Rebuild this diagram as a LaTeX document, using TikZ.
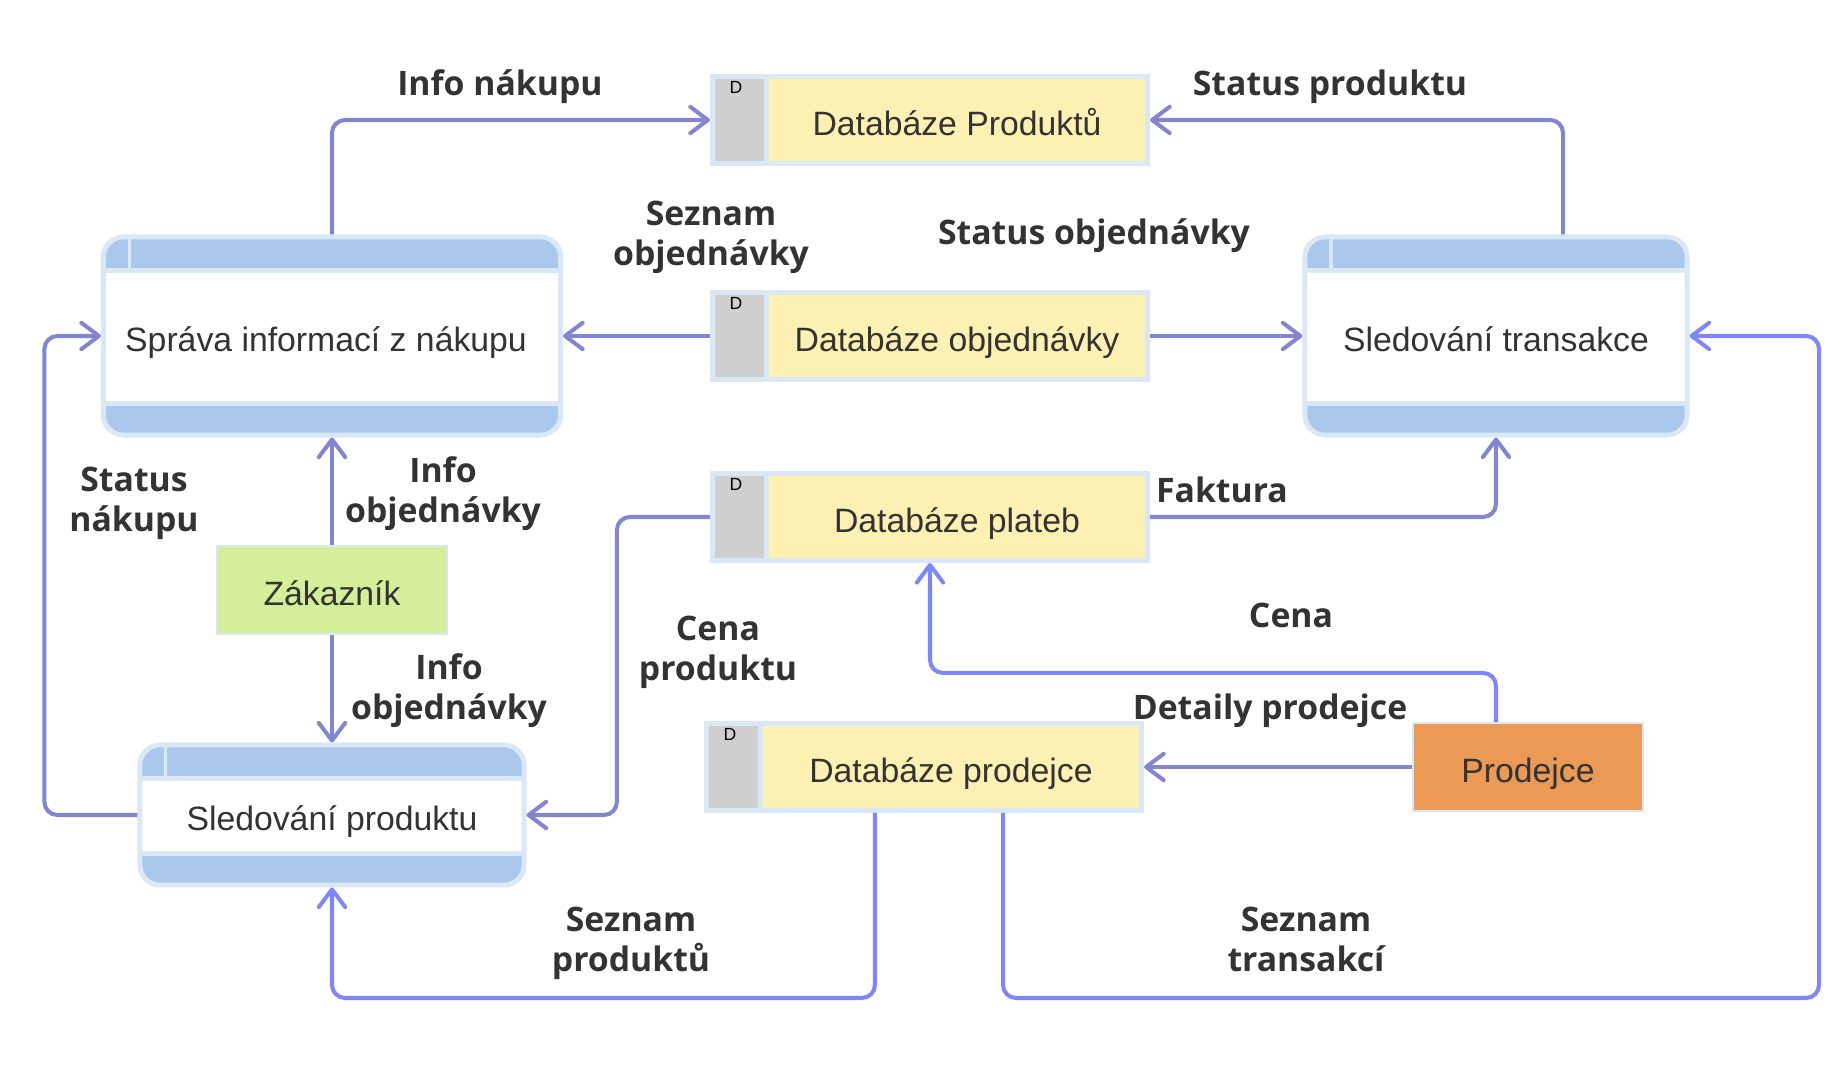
\documentclass[tikz,border=0pt]{standalone}
\usepackage{fontspec}
\setmainfont{Liberation Sans}
\newfontfamily\labelfont{Open Sans}
\usetikzlibrary{arrows.meta}
\definecolor{ink}{HTML}{333333}
\definecolor{procband}{HTML}{A9C8EC}
\definecolor{boxline}{HTML}{DAE8F5}
\definecolor{dbfill}{HTML}{FCF0B3}
\definecolor{dbgray}{HTML}{CFCFCF}
\definecolor{custfill}{HTML}{D4EE9A}
\definecolor{sellfill}{HTML}{EA9A55}
\definecolor{flowc}{HTML}{8385D0}
\definecolor{flowb}{HTML}{7F86F7}

\begin{document}
\begin{tikzpicture}[
  x=0.01cm, y=-0.01cm,
  font=\fontsize{9.6}{11.4}\selectfont,
  >={Straight Barb[length=5pt,width=7.5pt,round]},
  proc/.style={draw=boxline, line width=1.4pt, rounded corners=0.2cm, fill=white, text=ink, inner sep=0pt,
    text height=9pt, text depth=0pt,
    path picture={
      \coordinate (nw) at (path picture bounding box.north west);
      \coordinate (ne) at (path picture bounding box.north east);
      \coordinate (sw) at (path picture bounding box.south west);
      \coordinate (se) at (path picture bounding box.south east);
      \fill[procband, sharp corners] (nw) rectangle ([yshift=-0.335cm]ne);
      \fill[procband, sharp corners] (sw) rectangle ([yshift=0.315cm]se);
      \draw[boxline, line width=1.2pt, sharp corners] ([yshift=-0.335cm]nw) -- ([yshift=-0.335cm]ne);
      \draw[boxline, line width=1.2pt, sharp corners] ([yshift=0.315cm]sw) -- ([yshift=0.315cm]se);
      \draw[boxline, line width=0.9pt, sharp corners] ([xshift=0.26cm]nw) -- ([xshift=0.26cm,yshift=-0.335cm]nw);
    }},
  store/.style={draw=boxline, line width=1.4pt, fill=dbfill, text=ink, inner sep=0pt,
    minimum width=4.35cm, minimum height=0.87cm, text height=9pt, text depth=0pt,
    execute at begin node={\hspace*{0.54cm}},
    path picture={
      \coordinate (nw) at (path picture bounding box.north west);
      \coordinate (sw) at (path picture bounding box.south west);
      \fill[dbgray] (sw) rectangle ([xshift=0.54cm]nw);
      \draw[boxline, line width=1.4pt] ([xshift=0.54cm]sw) -- ([xshift=0.54cm]nw);
    },
    label={[dtag]north west:D}},
  dtag/.style={font=\fontsize{5}{6}\selectfont, text=black, inner sep=0pt, anchor=north, xshift=0.26cm, yshift=-0.07cm},
  ext/.style={draw=boxline, line width=0.6pt, text=ink, minimum width=2.3cm, minimum height=0.88cm,
    text height=9pt, text depth=0pt},
  lab/.style={font=\labelfont\bfseries\fontsize{9.6}{11.4}\selectfont, text=ink, align=center},
  flow/.style={->, draw=flowc, line width=1.15pt, rounded corners=0.13cm},
  bflow/.style={flow, draw=flowb},
]
\useasboundingbox (0,0) rectangle (1842,1080);

% processes
\node[proc, minimum width=4.57cm, minimum height=1.98cm] (sprava) at (332,336) {Správa informací z nákupu\hspace*{0.12cm}};
\node[proc, minimum width=3.82cm, minimum height=1.98cm] (sledtrans) at (1496,336) {Sledování transakce};
\node[proc, minimum width=3.84cm, minimum height=1.40cm] (sledprod) at (332,815) {Sledování produktu};

% data stores
\node[store] (dbprod)   at (930,120) {Databáze Produktů};
\node[store] (dbobj)    at (930,336) {Databáze objednávky};
\node[store] (dbplat)   at (930,517) {Databáze plateb};
\node[store] (dbprodej) at (924,767) {Databáze prodejce};

% external entities
\node[ext, fill=custfill] (zakaznik) at (332,590) {Zákazník};
\node[ext, fill=sellfill] (prodejce) at (1528,767) {Prodejce};

% flows
\draw[flow] (sprava.north) |- (dbprod.west);
\draw[flow] ([xshift=0.67cm]sledtrans.north) |- (dbprod.east);
\draw[flow] (dbobj.west) -- (sprava.east);
\draw[flow] (dbobj.east) -- (sledtrans.west);
\draw[flow] (zakaznik.north) -- (sprava.south);
\draw[flow] (zakaznik.south) -- (sledprod.north);
\draw[flow] (sledprod.west) -- ++(-93,0) |- (sprava.west);
\draw[flow] (dbplat.west) -- ++(-93,0) |- (sledprod.east);
\draw[flow] (dbplat.east) -| (sledtrans.south);
\draw[bflow] (prodejce.north -| sledtrans.south) -- ++(0,-49) -| (dbplat.south);
\draw[flow] (prodejce.west) -- (dbprodej.east);
\draw[bflow] ([xshift=-0.49cm]dbprodej.south) -- ++(0,185) -| (sledprod.south);
\draw[bflow] ([xshift=0.79cm]dbprodej.south) -- ++(0,185) -- ++(816,0) |- (sledtrans.east);

% flow labels
\node[lab] (lInfoNak)  at (500,87)   {Info nákupu};
\node[lab] (lStatProd) at (1330,87)  {Status produktu};
\node[lab] (lSezObj)   at (711,237)  {Seznam\\objednávky};
\node[lab] (lStatObj)  at (1094,236) {Status objednávky};
\node[lab] (lInfoObjA) at (443,494)  {Info\\objednávky};
\node[lab] (lInfoObjB) at (449,691)  {Info\\objednávky};
\node[lab] (lStatNak)  at (134,503)  {Status\\nákupu};
\node[lab] (lCenaProd) at (718,652)  {Cena\\produktu};
\node[lab] (lFaktura)  at (1222,490) {Faktura};
\node[lab] (lCena)     at (1291,615) {Cena};
\node[lab] (lDetaily)  at (1270,711) {Detaily prodejce};
\node[lab] (lSezProd)  at (631,943)  {Seznam\\produktů};
\node[lab] (lSezTrans) at (1306,939) {Seznam\\transakcí};
\end{tikzpicture}
\end{document}
